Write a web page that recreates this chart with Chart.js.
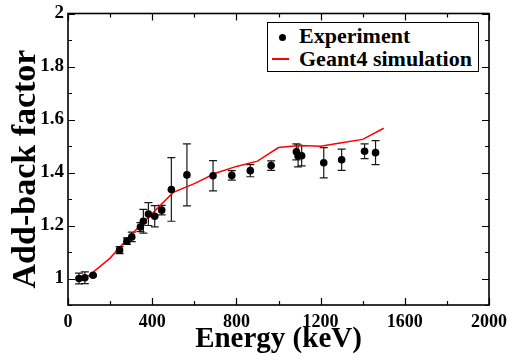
<!DOCTYPE html>
<html>
<head>
<meta charset="utf-8">
<script src="https://cdn.jsdelivr.net/npm/chart.js@4/dist/chart.umd.min.js"></script>
<style>
  html, body { margin: 0; padding: 0; background: #fff; }
  #wrap { position: relative; width: 515px; height: 360px; }
  #legend {
    position: absolute; left: 267px; top: 22px; width: 210px; height: 48px;
    border: 1.5px solid #000; background: #fff;
    font-family: "Liberation Serif", "Times New Roman", serif; font-weight: bold; font-size: 22px;
  }
  .item { position: absolute; left: 31px; line-height: 22px; white-space: nowrap; }
  .sym { position: absolute; }
</style>
</head>
<body>
<div id="wrap">
  <canvas id="c" width="515" height="360"></canvas>
  <div id="legend"></div>
</div>
<script>
// ---- data ----
const expEnergy = [52, 80, 119, 245, 280, 303, 344, 358, 382, 412, 445, 491, 565, 689, 778, 866, 965, 1085, 1093, 1110, 1215, 1300, 1409, 1461];
const expFactor = [1.000, 1.003, 1.012, 1.107, 1.141, 1.157, 1.194, 1.216, 1.243, 1.235, 1.258, 1.336, 1.391, 1.388, 1.389, 1.407, 1.426, 1.478, 1.462, 1.463, 1.437, 1.448, 1.480, 1.475];
const expError  = [0.020, 0.022, 0.004, 0.013, 0.012, 0.018, 0.017, 0.045, 0.043, 0.040, 0.018, 0.120, 0.117, 0.057, 0.018, 0.023, 0.018, 0.030, 0.041, 0.038, 0.057, 0.040, 0.028, 0.045];

const simEnergy = [50, 100, 200, 300, 400, 500, 600, 700, 800, 900, 1000, 1100, 1200, 1300, 1400, 1500];
const simFactor = [1.003, 1.011, 1.077, 1.165, 1.245, 1.325, 1.358, 1.397, 1.423, 1.443, 1.494, 1.502, 1.499, 1.512, 1.525, 1.567];

const xTicks = [0, 400, 800, 1200, 1600, 2000];
const xMinorTicks = [200, 600, 1000, 1400, 1800];
const yTicks = [1, 1.2, 1.4, 1.6, 1.8, 2];
const yMinorTicks = [0.9, 1.1, 1.3, 1.5, 1.7, 1.9];

const seriesLabels = ["Experiment", "Geant4 simulation"];
const xTitle = "Energy (keV)";
const yTitle = "Add-back factor";

const FONT = '"Liberation Serif", "Times New Roman", serif';

const expPoints = expEnergy.map((e, i) => ({ x: e, y: expFactor[i], err: expError[i] }));
const simPoints = simEnergy.map((e, i) => ({ x: e, y: simFactor[i] }));

// error bars + frame + inward ticks + y title
const decor = {
  id: 'decor',
  beforeDatasetsDraw(chart) {
    const ctx = chart.ctx, xs = chart.scales.x, ys = chart.scales.y;
    ctx.save();
    ctx.strokeStyle = '#1a1a1a';
    ctx.lineWidth = 1.2;
    expPoints.forEach(p => {
      if (!p.err) return;
      const px = xs.getPixelForValue(p.x);
      const top = ys.getPixelForValue(p.y + p.err);
      const bot = ys.getPixelForValue(p.y - p.err);
      const cap = 4;
      ctx.beginPath();
      ctx.moveTo(px, top); ctx.lineTo(px, bot);
      ctx.moveTo(px - cap, top); ctx.lineTo(px + cap, top);
      ctx.moveTo(px - cap, bot); ctx.lineTo(px + cap, bot);
      ctx.stroke();
    });
    ctx.restore();
  },
  afterDraw(chart) {
    const ctx = chart.ctx, xs = chart.scales.x, ys = chart.scales.y, a = chart.chartArea;
    ctx.save();
    ctx.strokeStyle = '#000';
    ctx.lineWidth = 1.6;
    ctx.strokeRect(a.left, a.top, a.right - a.left, a.bottom - a.top);
    ctx.lineWidth = 1.2;
    ctx.beginPath();
    const tick = (v, len, horiz) => {
      if (horiz) {
        const px = Math.round(xs.getPixelForValue(v)) + 0.5;
        ctx.moveTo(px, a.bottom); ctx.lineTo(px, a.bottom - len);
        ctx.moveTo(px, a.top); ctx.lineTo(px, a.top + len);
      } else {
        const py = Math.round(ys.getPixelForValue(v)) + 0.5;
        ctx.moveTo(a.left, py); ctx.lineTo(a.left + len, py);
        ctx.moveTo(a.right, py); ctx.lineTo(a.right - len, py);
      }
    };
    xTicks.forEach(v => tick(v, 7, true));
    xMinorTicks.forEach(v => tick(v, 4, true));
    yTicks.forEach(v => tick(v, 7, false));
    yMinorTicks.forEach(v => tick(v, 4, false));
    ctx.stroke();
    // y axis title
    ctx.translate(26, 169);
    ctx.rotate(-Math.PI / 2);
    ctx.fillStyle = '#000';
    ctx.font = 'bold 34px ' + FONT;
    ctx.textAlign = 'center';
    ctx.textBaseline = 'middle';
    ctx.fillText(yTitle, 0, 0);
    ctx.restore();
  }
};

const chart = new Chart(document.getElementById('c'), {
  type: 'scatter',
  data: {
    datasets: [
      {
        label: seriesLabels[0],
        data: expPoints,
        showLine: false,
        pointRadius: 3.8,
        pointBackgroundColor: '#000',
        pointBorderColor: '#000',
        pointBorderWidth: 0,
        order: 0
      },
      {
        label: seriesLabels[1],
        data: simPoints,
        showLine: true,
        borderColor: '#ff0000',
        borderWidth: 1.5,
        pointRadius: 0,
        fill: false,
        tension: 0,
        order: 1
      }
    ]
  },
  options: {
    responsive: false,
    animation: false,
    layout: { padding: { top: 9, right: 23, left: 0, bottom: 0 } },
    plugins: { legend: { display: false }, tooltip: { enabled: false } },
    scales: {
      x: {
        type: 'linear', min: 0, max: 2000,
        afterBuildTicks: s => { s.ticks = xTicks.map(v => ({ value: v })); },
        afterFit: s => { s.height = 55; },
        grid: { display: false, drawTicks: false },
        border: { display: false },
        ticks: { color: '#000', padding: 8, maxRotation: 0, callback: v => String(v),
                 font: { family: FONT, weight: 'bold', size: 18, lineHeight: 1 } },
        title: { display: true, text: xTitle, color: '#000', padding: { top: 0, bottom: 6 }, font: { family: FONT, weight: 'bold', size: 29, lineHeight: 1 } }
      },
      y: {
        type: 'linear', min: 0.9, max: 2,
        afterBuildTicks: s => { s.ticks = yTicks.map(v => ({ value: v })); },
        afterFit: s => { s.width = 68; },
        grid: { display: false, drawTicks: false },
        border: { display: false },
        ticks: { color: '#000', padding: 4, callback: v => (Number.isInteger(v) ? String(v) : v.toFixed(1)),
                 font: { family: FONT, weight: 'bold', size: 19, lineHeight: 1 } },
        title: { display: false, text: yTitle }
      }
    }
  },
  plugins: [decor]
});

// legend built from the chart's datasets
const lg = document.getElementById('legend');
chart.data.datasets.forEach((ds, i) => {
  const it = document.createElement('div');
  it.className = 'item';
  it.style.top = (i === 0 ? 2 : 25) + 'px';
  it.textContent = ds.label;
  lg.appendChild(it);
  const s = document.createElement('div');
  s.className = 'sym';
  if (i === 0) {
    Object.assign(s.style, { left: '11px', top: '11px', width: '7px', height: '7px', borderRadius: '50%', background: '#000' });
  } else {
    Object.assign(s.style, { left: '4px', top: '35px', width: '17px', height: '1.5px', background: '#ff0000' });
  }
  lg.appendChild(s);
});
</script>
</body>
</html>
